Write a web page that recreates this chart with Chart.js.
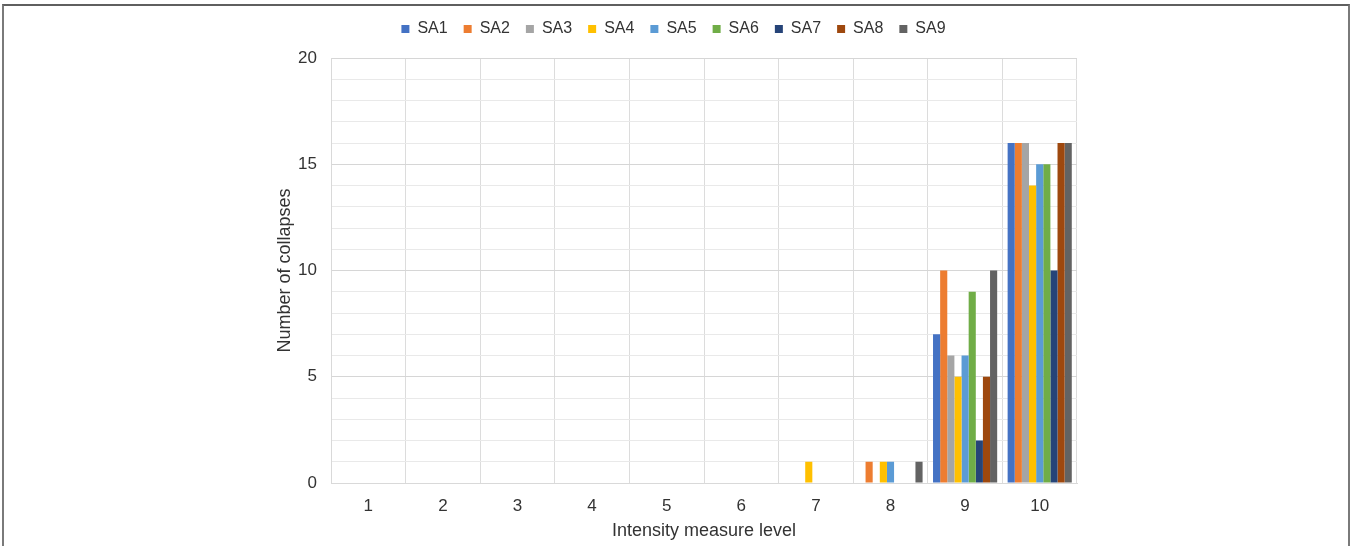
<!DOCTYPE html>
<html>
<head>
<meta charset="utf-8">
<script src="https://cdn.jsdelivr.net/npm/chart.js@4/dist/chart.umd.min.js"></script>
<style>
  html, body { margin: 0; padding: 0; background: #ffffff; }
  #wrap { position: relative; width: 1351px; height: 546px; overflow: hidden; }
  #frame {
    position: absolute; left: 2px; top: 4px; width: 1344px; height: 560px;
    border-top: 2px solid #5f5f5f; border-left: 2px solid #7a7a7a; border-right: 2px solid #7a7a7a;
    pointer-events: none;
  }
  canvas { position: absolute; left: 0; top: 0; }
</style>
</head>
<body>
<div id="wrap">
  <canvas id="chart" width="1351" height="546"></canvas>
  <div id="frame"></div>
</div>
<script>
// Intensity measure levels on the x axis
const levels = ['1', '2', '3', '4', '5', '6', '7', '8', '9', '10'];

// Number of collapses per intensity level, one array per series
const sa1 = [0, 0, 0, 0, 0, 0, 0, 0, 7, 16];
const sa2 = [0, 0, 0, 0, 0, 0, 0, 1, 10, 16];
const sa3 = [0, 0, 0, 0, 0, 0, 0, 0, 6, 16];
const sa4 = [0, 0, 0, 0, 0, 0, 1, 1, 5, 14];
const sa5 = [0, 0, 0, 0, 0, 0, 0, 1, 6, 15];
const sa6 = [0, 0, 0, 0, 0, 0, 0, 0, 9, 15];
const sa7 = [0, 0, 0, 0, 0, 0, 0, 0, 2, 10];
const sa8 = [0, 0, 0, 0, 0, 0, 0, 0, 5, 16];
const sa9 = [0, 0, 0, 0, 0, 0, 0, 1, 10, 16];

const seriesNames = ['SA1', 'SA2', 'SA3', 'SA4', 'SA5', 'SA6', 'SA7', 'SA8', 'SA9'];
const seriesValues = [sa1, sa2, sa3, sa4, sa5, sa6, sa7, sa8, sa9];
const seriesColors = ['#4472C4', '#ED7D31', '#A5A5A5', '#FFC000', '#5B9BD5',
                      '#70AD47', '#264478', '#9E480E', '#636363'];

// Y axis ticks: labelled every 5, light minor lines every 1
const yMax = 20;
const yLabelStep = 5;

const textColor = '#333333';
const fontFamily = '"Liberation Sans", Arial, Helvetica, sans-serif';

// Extra space under the legend row before the plot area starts
const legendGap = {
  id: 'legendGap',
  afterInit(chart) {
    const legend = chart.legend;
    if (!legend) return;
    const fit = legend.fit;
    legend.fit = function () {
      fit.call(this);
      this.height += 11;
    };
  }
};

new Chart(document.getElementById('chart'), {
  type: 'bar',
  data: {
    labels: levels,
    datasets: seriesNames.map((name, i) => ({
      label: name,
      data: seriesValues[i],
      backgroundColor: seriesColors[i],
      borderWidth: 0,
      categoryPercentage: 0.86,
      barPercentage: 1.0
    }))
  },
  options: {
    responsive: false,
    animation: false,
    layout: { padding: { left: 270, right: 274, top: 5, bottom: 0 } },
    plugins: {
      legend: {
        position: 'top',
        labels: {
          boxWidth: 8,
          boxHeight: 8,
          padding: 16,
          color: textColor,
          font: { family: fontFamily, size: 16 }
        }
      },
      tooltip: { enabled: false }
    },
    scales: {
      x: {
        grid: { color: '#dcdcdc', offset: true, drawTicks: false },
        border: { color: '#d9d9d9' },
        ticks: { color: textColor, padding: 13, font: { family: fontFamily, size: 17 } },
        title: {
          display: true,
          text: 'Intensity measure level',
          color: textColor,
          font: { family: fontFamily, size: 18 },
          padding: { top: 4, bottom: 4 }
        },
        afterFit(scale) { scale.height = 63; }
      },
      y: {
        min: 0,
        max: yMax,
        grid: {
          drawTicks: false,
          color: (ctx) => (ctx.tick && ctx.tick.value % yLabelStep === 0) ? '#d6d6d6' : '#e9e9e9'
        },
        border: { color: '#d9d9d9' },
        ticks: {
          stepSize: 1,
          autoSkip: false,
          maxTicksLimit: 25,
          padding: 14,
          color: textColor,
          font: { family: fontFamily, size: 17 },
          callback: (v) => (v % yLabelStep === 0 ? String(v) : '')
        },
        title: {
          display: true,
          text: 'Number of collapses',
          color: textColor,
          font: { family: fontFamily, size: 18 },
          padding: { top: 4, bottom: 4 }
        },
        afterFit(scale) { scale.width = 61; }
      }
    }
  },
  plugins: [legendGap]
});
</script>
</body>
</html>
